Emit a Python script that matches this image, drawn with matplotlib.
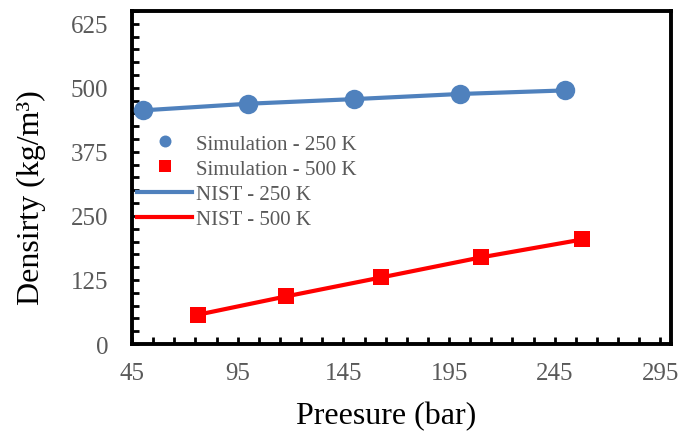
import matplotlib
matplotlib.use("Agg")
import matplotlib.pyplot as plt
from matplotlib.lines import Line2D
from matplotlib.ticker import FixedLocator
import numpy as np

# ---- data ----
p_250 = [50, 100, 150, 200, 250]
sim_250 = [456, 469, 478, 488, 495]
nist_250 = [456, 469, 478, 488, 495]

p_500 = [76, 118, 163, 210, 258]
sim_500 = [57, 93, 130, 169, 204]
nist_500 = [57, 93, 130, 169, 204]

x_ticks = [45, 95, 145, 195, 245, 295]
y_ticks = [0, 125, 250, 375, 500, 625]

legend_labels = ["Simulation - 250 K", "Simulation - 500 K", "NIST - 250 K", "NIST - 500 K"]

BLUE = "#4F81BD"
RED = "#FF0000"
GRAY = "#595959"

plt.rcParams['font.family'] = ['Liberation Serif', 'DejaVu Serif']

W, H = 686, 435
fig = plt.figure(figsize=(W / 100, H / 100), dpi=100)
ax = fig.add_axes([132 / W, 1 - 345 / H, (671 - 132) / W, (345 - 12) / H])

ax.plot(p_250, nist_250, color=BLUE, lw=3, zorder=2)
ax.plot(p_500, nist_500, color=RED, lw=3, zorder=2)
ax.plot(p_250, sim_250, 'o', color=BLUE, ms=14, mew=0, zorder=3)
ax.plot(p_500, sim_500, 's', color=RED, ms=11.5, mew=0, zorder=3)

ax.set_xlim(45, 300)
ax.set_ylim(0, 650)
ax.xaxis.set_major_locator(FixedLocator(x_ticks))
ax.yaxis.set_major_locator(FixedLocator(y_ticks))
ax.xaxis.set_minor_locator(FixedLocator(np.arange(45, 301, 10)))
ax.yaxis.set_minor_locator(FixedLocator(np.arange(0, 651, 25)))

for s in ax.spines.values():
    s.set_linewidth(2.8)
    s.set_color('black')

ax.tick_params(axis='both', which='both', direction='in', length=5, width=2,
               color='black', top=False, right=False)
ax.tick_params(axis='x', which='major', labelsize=18, labelcolor=GRAY, pad=13)
ax.tick_params(axis='y', which='major', labelsize=18, labelcolor=GRAY, pad=17)

fig.text(386 / W, 1 - 424 / H, "Preesure (bar)", ha='center', va='baseline',
         fontsize=23, color='black')
fig.text(31 / W, 1 - 197.5 / H, "Densirty (kg/m³)", ha='center', va='center',
         rotation=90, fontsize=23, color='black')

handles = [
    Line2D([], [], ls='none', marker='o', color=BLUE, ms=8.6, mew=0),
    Line2D([], [], ls='none', marker='s', color=RED, ms=8, mew=0),
    Line2D([], [], color=BLUE, lw=3),
    Line2D([], [], color=RED, lw=3),
]
leg = fig.legend(handles, legend_labels, loc='upper left',
                 bbox_to_anchor=(137 / W, 1 - 135 / H), frameon=False,
                 fontsize=15, labelcolor=GRAY, handlelength=2.65,
                 handletextpad=0.2, labelspacing=0.27, borderpad=0,
                 borderaxespad=0)

fig.savefig("out.png", dpi=100)
